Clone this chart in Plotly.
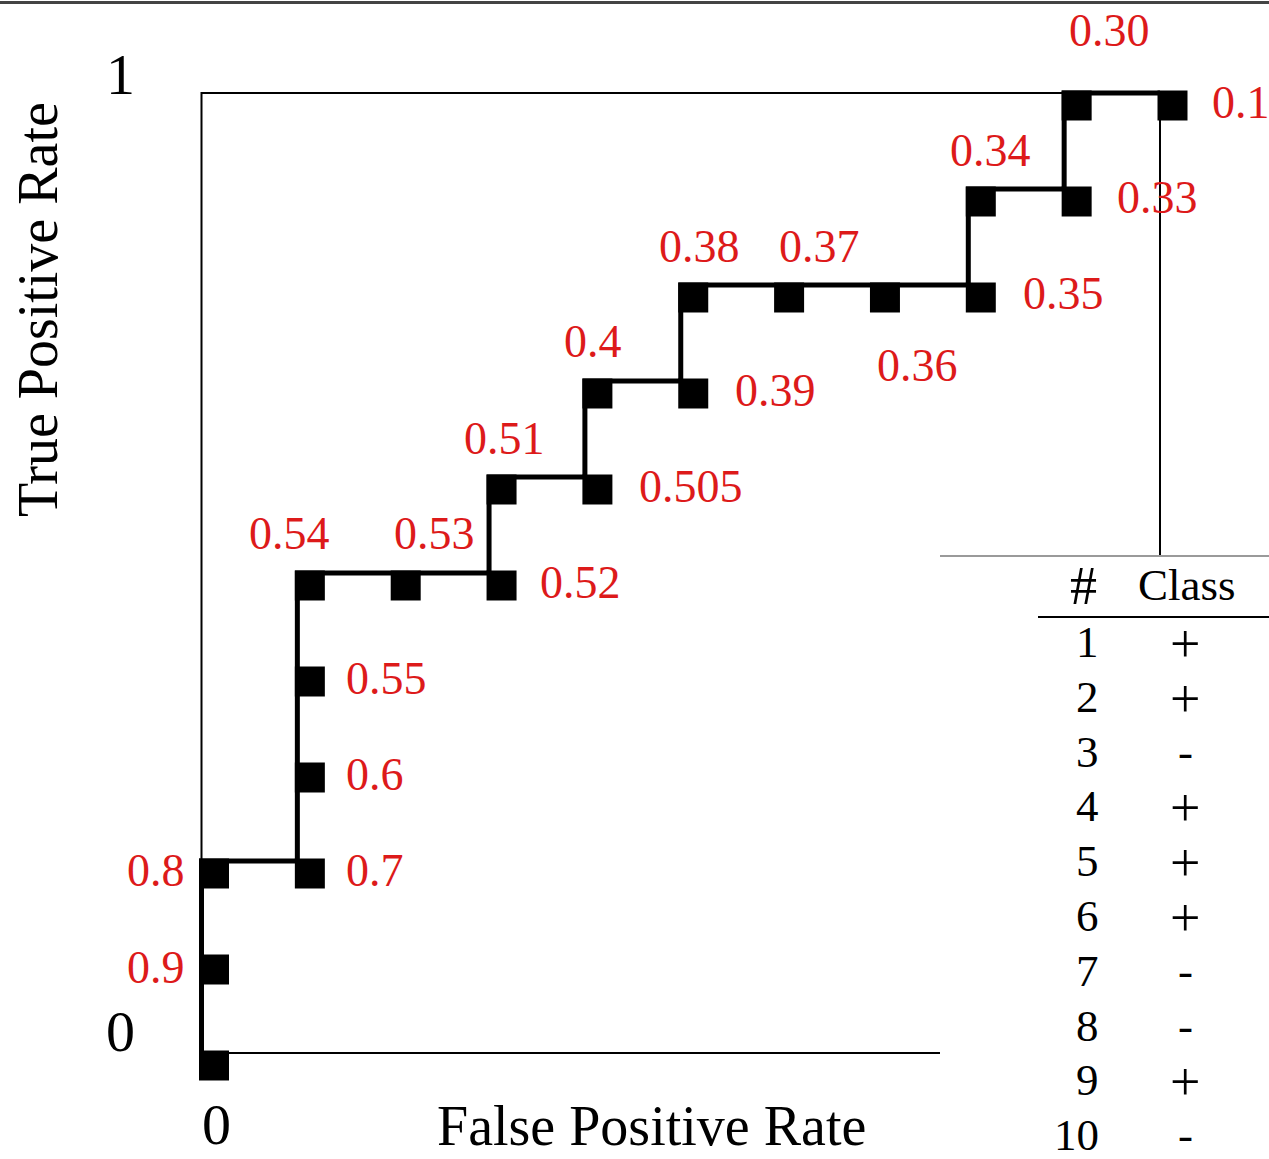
import plotly.graph_objects as go

# ---------------- data ----------------
thresholds = ["", "0.9", "0.8", "0.7", "0.6", "0.55", "0.54", "0.53", "0.52", "0.51", "0.505",
              "0.4", "0.39", "0.38", "0.37", "0.36", "0.35", "0.34", "0.33", "0.30", "0.1"]
fpr = [0.0, 0.0, 0.0, 0.1, 0.1, 0.1, 0.1, 0.2, 0.3, 0.3, 0.4,
       0.4, 0.5, 0.5, 0.6, 0.7, 0.8, 0.8, 0.9, 0.9, 1.0]
tpr = [0.0, 0.1, 0.2, 0.2, 0.3, 0.4, 0.5, 0.5, 0.5, 0.6, 0.6,
       0.7, 0.7, 0.8, 0.8, 0.8, 0.8, 0.9, 0.9, 1.0, 1.0]
instance_ids = ["1", "2", "3", "4", "5", "6", "7", "8", "9", "10"]
instance_class = ["+", "+", "-", "+", "+", "+", "-", "-", "+", "-"]
x_axis_title = "False Positive Rate"
y_axis_title = "True Positive Rate"
x_tick_labels = ["0"]
y_tick_labels = ["0", "1"]

# ---------------- style / layout ----------------
W, H = 1269, 1159
FONT = "Liberation Serif"
RED = "#dd1a1a"
# pixel mapping of data 0..1 (window pixels)
PX0, PX1 = 201.5, 1160.0
PY0, PY1 = 1053.0, 93.0
sx = PX1 - PX0
sy = PY0 - PY1
xr = [-PX0 / sx, (W - PX0) / sx]
yr = [-(H - PY0) / sy, 1 + PY1 / sy]

MARK = 30
off_px = 12.5
mx = [v + off_px / sx for v in fpr]
my = [v - off_px / sy for v in tpr]

# label placement: (xanchor, xshift px, yshift px)
label_style = {
    "0.9": ("right", -15, -10), "0.8": ("right", -15, -9),
    "0.7": ("left", 47, -9), "0.6": ("left", 47, -9), "0.55": ("left", 47, -9),
    "0.54": ("center", -8, 40), "0.53": ("center", 41, 40), "0.52": ("left", 49, -9),
    "0.51": ("center", 15, 39), "0.505": ("left", 52, -9),
    "0.4": ("center", 8, 40), "0.39": ("left", 52, -9),
    "0.38": ("center", 19, 39), "0.37": ("center", 43, 39), "0.36": ("center", 45, -80),
    "0.35": ("left", 53, -8), "0.34": ("center", 22, 39), "0.33": ("left", 51, -8),
    "0.30": ("center", 45, 63), "0.1": ("left", 50, -9),
}

fig = go.Figure()
fig.add_trace(go.Scatter(x=fpr, y=tpr, mode="lines",
                         line=dict(color="black", width=5), hoverinfo="skip",
                         showlegend=False))
fig.add_trace(go.Scatter(x=mx, y=my, mode="markers",
                         marker=dict(symbol="square", size=MARK, color="black",
                                     line=dict(width=0)),
                         showlegend=False, hoverinfo="skip"))

ann = []
for t, x, y in zip(thresholds, fpr, tpr):
    if not t:
        continue
    xa, xs, ys = label_style[t]
    ann.append(dict(x=x, y=y, xref="x", yref="y", text=t, showarrow=False,
                    xanchor=xa, yanchor="middle", xshift=xs, yshift=ys,
                    font=dict(family=FONT, size=46, color=RED)))


def P(px, py):
    return px / W, 1 - py / H


# axis labels
for txt, (px, py) in zip(y_tick_labels, [(120, 1031), (120, 75)]):
    x, y = P(px, py)
    ann.append(dict(x=x, y=y, xref="paper", yref="paper", text=txt, showarrow=False,
                    xanchor="center", yanchor="middle",
                    font=dict(family=FONT, size=58, color="black")))
for txt, px in zip(x_tick_labels, [216]):
    ann.append(dict(x=px / W, y=0, xref="paper", yref="paper", text=txt, showarrow=False,
                    xanchor="center", yanchor="bottom",
                    font=dict(family=FONT, size=58, color="black")))
ann.append(dict(x=651 / W, y=0, xref="paper", yref="paper", text=x_axis_title,
                showarrow=False, xanchor="center", yanchor="bottom",
                font=dict(family=FONT, size=56, color="black")))
x, y = P(38, 310)
ann.append(dict(x=x, y=y, xref="paper", yref="paper", text=y_axis_title, showarrow=False,
                xanchor="center", yanchor="middle", textangle=-90,
                font=dict(family=FONT, size=56, color="black")))

# table
x, y = P(1099, 586)
ann.append(dict(x=x, y=y, xref="paper", yref="paper", text="#", showarrow=False,
                xanchor="right", yanchor="middle",
                font=dict(family=FONT, size=54, color="black")))
x, y = P(1187, 585)
ann.append(dict(x=x, y=y, xref="paper", yref="paper", text="Class", showarrow=False,
                xanchor="center", yanchor="middle",
                font=dict(family=FONT, size=45, color="black")))
ROW0, ROWSTEP = 642, 54.8
for i, (iid, cls) in enumerate(zip(instance_ids, instance_class)):
    py = ROW0 + i * ROWSTEP
    x, y = P(1101, py)
    ann.append(dict(x=x, y=y, xref="paper", yref="paper", text=iid, showarrow=False,
                    xanchor="right", yanchor="middle",
                    font=dict(family=FONT, size=45, color="black")))
    x, y = P(1185, py + (2 if cls == "+" else 0))
    ann.append(dict(x=x, y=y, xref="paper", yref="paper", text=cls, showarrow=False,
                    xanchor="center", yanchor="middle",
                    font=dict(family=FONT, size=54 if cls == "+" else 45, color="black")))

tx0, ty_top = P(940, 556)
_, ty_rule = P(1038, 617)
hx0 = 1038 / W
_, ty_border = P(0, 2.5)
shapes = [
    # axes frame
    dict(type="rect", xref="x", yref="y", x0=0, y0=0, x1=1, y1=1,
         line=dict(color="black", width=2), layer="below"),
    # overlay region of the table
    dict(type="rect", xref="paper", yref="paper", x0=tx0, x1=1.01,
         y0=-0.01, y1=ty_top, fillcolor="white", line=dict(width=0), layer="above"),
    dict(type="line", xref="paper", yref="paper", x0=tx0, x1=1.01,
         y0=ty_top, y1=ty_top, line=dict(color="#9a9a9a", width=2), layer="above"),
    dict(type="line", xref="paper", yref="paper", x0=hx0, x1=1.01,
         y0=ty_rule, y1=ty_rule, line=dict(color="black", width=2), layer="above"),
    # top border of the picture
    dict(type="line", xref="paper", yref="paper", x0=0, x1=1,
         y0=ty_border, y1=ty_border, line=dict(color="#444444", width=3), layer="above"),
]

fig.update_layout(
    width=W, height=H, margin=dict(l=0, r=0, t=0, b=0),
    paper_bgcolor="white", plot_bgcolor="white",
    xaxis=dict(range=xr, visible=False, fixedrange=True),
    yaxis=dict(range=yr, visible=False, fixedrange=True),
    annotations=ann, shapes=shapes, showlegend=False,
)
fig.write_html("out.html", config={"displayModeBar": False},
               post_script="document.body.style.margin='0';document.body.style.overflow='hidden';")
